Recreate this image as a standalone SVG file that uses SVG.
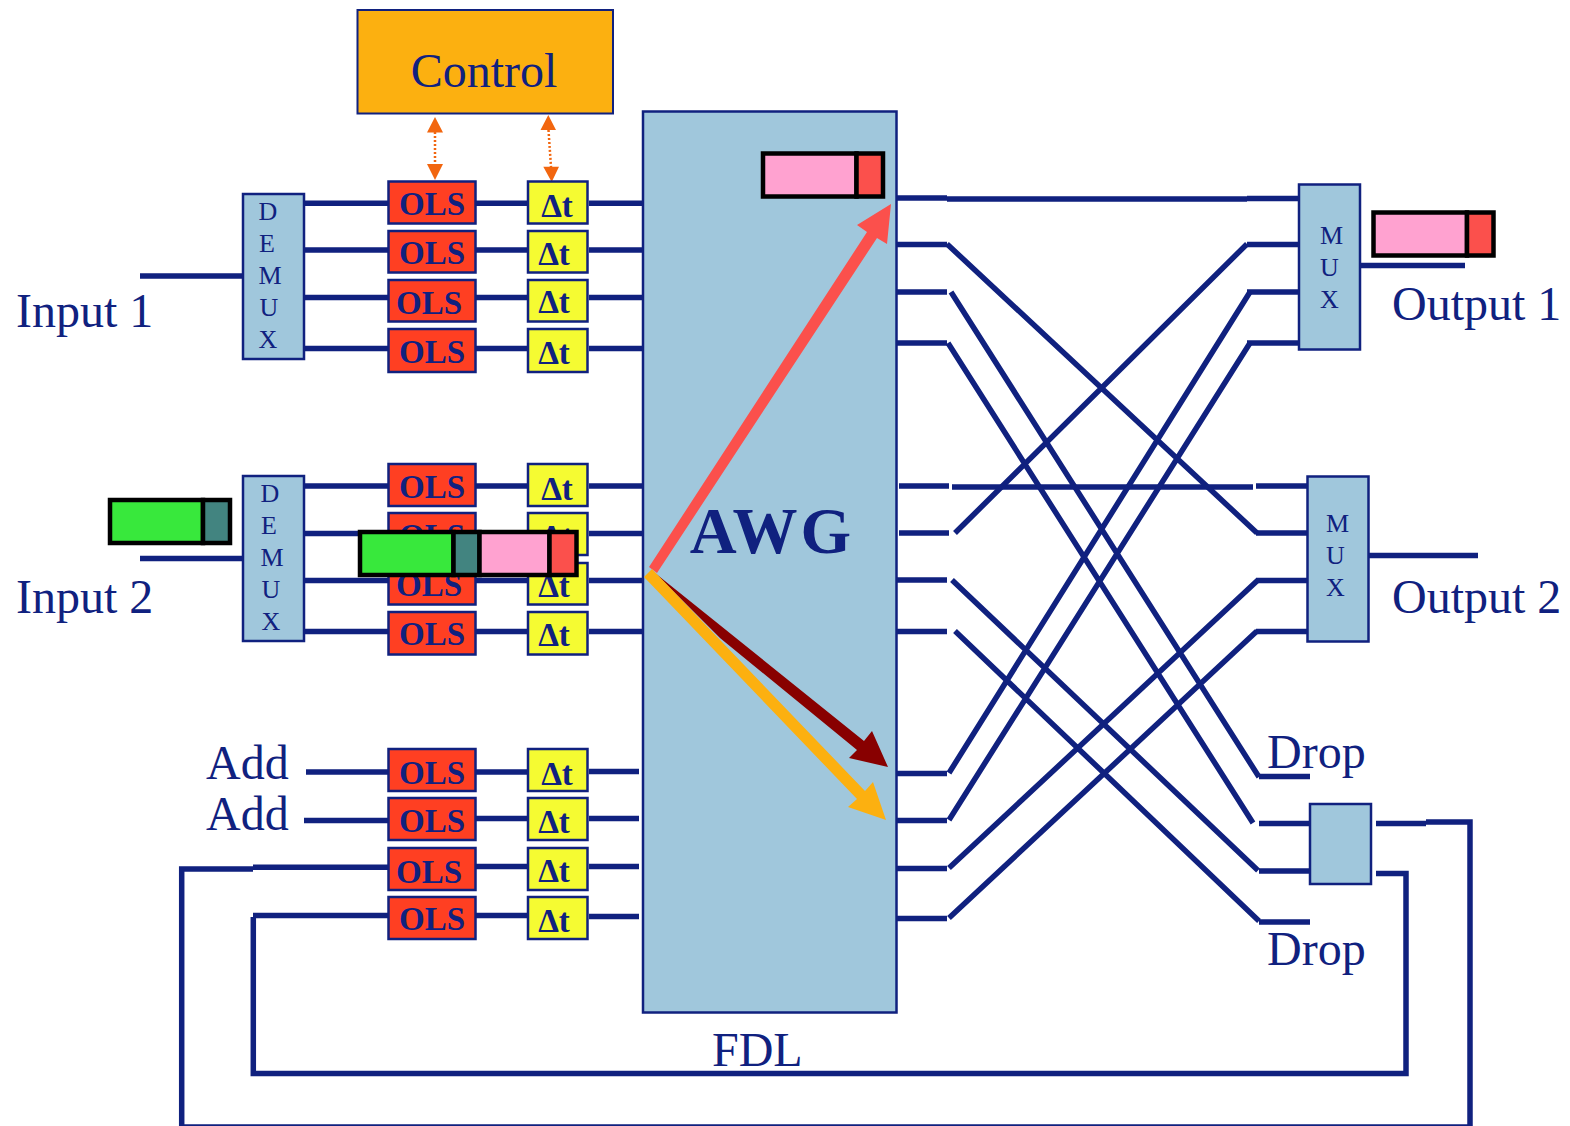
<svg xmlns="http://www.w3.org/2000/svg" width="1570" height="1126" viewBox="0 0 1570 1126">
<style>
text{font-family:"Liberation Serif","Times New Roman",serif;fill:#10217f}
.l{font-size:48px}
.ls{font-size:26px}
.ols rect{fill:#ff3f22;stroke:#10217f;stroke-width:2.5}
.ols text{font-size:33px;font-weight:bold;text-anchor:middle}
.dt rect{fill:#f5fb32;stroke:#10217f;stroke-width:2.5}
.dt text{font-size:33px;font-weight:bold;text-anchor:middle}
.blue{fill:#a0c7dc;stroke:#10217f;stroke-width:2.5}
.c path{stroke:#10217f;stroke-width:5.500;fill:none}
.p rect{stroke:#000;stroke-width:4.500}
</style>
<g id="awg"><rect class="blue" x="643" y="111.500" width="253.500" height="901"/><text x="772" y="553" text-anchor="middle" font-size="65" font-weight="bold" letter-spacing="3">AWG</text></g>
<g class="c" id="connectors">
<path d="M140 276H243M140 558.500H243"/>
<path d="M304 203.300H388M476 203.300H528M589 203.300H642M304 250H388M476 250H528M589 250H642M304 297.500H388M476 297.500H528M589 297.500H642M304 348.500H388M476 348.500H528M589 348.500H642"/>
<path d="M304 486H388M476 486H528M589 486H642M304 533.500H388M476 533.500H528M589 533.500H642M304 580.500H388M476 580.500H528M589 580.500H642M304 631.500H388M476 631.500H528M589 631.500H642"/>
<path d="M306 772H388M476 772H528M589 771.500H639M304 820.500H388M476 818.500H528M589 818.500H639M476 866.500H528M589 866.500H639M476 915.500H528M589 916.500H639"/>
<path d="M896 198H947M896 244.500H947M896 292H947M896 343H947M899 486H949M899 533H949M896 580H947M896 631.500H947M896 773.500H947M896 820.500H947M896 868.500H947M896 918.500H947"/>
<path d="M947 199H1247M952 487H1253M1247 198.500H1298M1247 244.500H1298M1247 292H1298M1247 343H1298M1256 486H1307M1256 533H1307M1256 580.500H1307M1256 631.500H1307"/>
<path d="M1259 776.500H1310M1259 823.500H1310M1259 871H1310M1259 922H1310"/>
<path d="M947 244L1257 533M951 292L1259 777M948 343L1253 823M955 533L1247 244M952 580L1258 870.500M955 631L1259 921M949 773L1250 292M949 820L1250 343M949 868L1258 580M949 918L1257 631"/>
<path d="M1360 265.500H1465M1369 555.500H1478"/>
<path d="M1376 823.500H1426M1426 822H1470V1127H181.700V869H253M253 867.300H388"/>
<path d="M1376 873.500H1406V1073.500H253.300V917M253 915.500H388"/>
</g>
<g id="arrow-control-ols"><path d="M435 132V165" stroke="#f2660f" stroke-width="2.500" stroke-dasharray="2 2" fill="none"/><path d="M435 117L443 132.500H427ZM435 180L427 164H443Z" fill="#f2660f"/></g>
<g id="arrow-control-dt"><path d="M548.500 130L551 167" stroke="#f2660f" stroke-width="2.500" stroke-dasharray="2 2" fill="none"/><path d="M548.300 115L556 130H540.500ZM551.700 182L543.300 166.700H559Z" fill="#f2660f"/></g>
<g id="control"><rect x="357.500" y="10" width="255.500" height="103.500" fill="#fcb010" stroke="#10217f" stroke-width="2"/><text x="484" y="87" text-anchor="middle" font-size="48">Control</text></g>
<g id="demux1"><rect class="blue" x="243" y="194" width="61" height="165"/><g class="ls" text-anchor="middle"><text x="268" y="220">D</text><text x="267" y="252">E</text><text x="270" y="284">M</text><text x="269" y="316">U</text><text x="268" y="348">X</text></g></g>
<g id="demux2"><rect class="blue" x="243" y="476" width="61" height="165"/><g class="ls" text-anchor="middle"><text x="270" y="502">D</text><text x="269" y="534">E</text><text x="272" y="566">M</text><text x="271" y="598">U</text><text x="271" y="630">X</text></g></g>
<g id="mux1"><rect class="blue" x="1299" y="184.500" width="61" height="165"/><g class="ls" text-anchor="middle"><text x="1331.500" y="244">M</text><text x="1329.500" y="276">U</text><text x="1329.500" y="308">X</text></g></g>
<g id="mux2"><rect class="blue" x="1307.500" y="476.500" width="61" height="165"/><g class="ls" text-anchor="middle"><text x="1337.500" y="532">M</text><text x="1335.500" y="564">U</text><text x="1335.500" y="596">X</text></g></g>
<g id="coupler"><rect class="blue" x="1310" y="804" width="61" height="80"/></g>
<g id="ols-rows">
<g class="ols"><rect x="388.500" y="181.500" width="87" height="42"/><text x="432" y="215">OLS</text></g>
<g class="ols"><rect x="388.500" y="231" width="87" height="41.500"/><text x="432" y="263.500">OLS</text></g>
<g class="ols"><rect x="388.500" y="280" width="87" height="41.500"/><text x="429" y="314">OLS</text></g>
<g class="ols"><rect x="388.500" y="329" width="87" height="43"/><text x="432" y="362.500">OLS</text></g>
<g class="ols"><rect x="388.500" y="464" width="87" height="42"/><text x="432" y="498">OLS</text></g>
<g class="ols"><rect x="388.500" y="513" width="87" height="42"/><text x="432" y="547">OLS</text></g>
<g class="ols"><rect x="388.500" y="563" width="87" height="41.500"/><text x="429" y="596">OLS</text></g>
<g class="ols"><rect x="388.500" y="612" width="87" height="42.500"/><text x="432" y="644.500">OLS</text></g>
<g class="ols"><rect x="388.500" y="749" width="87" height="42"/><text x="432" y="784">OLS</text></g>
<g class="ols"><rect x="388.500" y="798" width="87" height="42"/><text x="432" y="831.500">OLS</text></g>
<g class="ols"><rect x="388.500" y="848" width="87" height="42"/><text x="429" y="882.500">OLS</text></g>
<g class="ols"><rect x="388.500" y="897" width="87" height="42"/><text x="432" y="930">OLS</text></g>
</g>
<g id="dt-rows">
<g class="dt"><rect x="528" y="181.500" width="59.500" height="42"/><text x="557" y="217">Δt</text></g>
<g class="dt"><rect x="528" y="231" width="59.500" height="41.500"/><text x="554" y="264.500">Δt</text></g>
<g class="dt"><rect x="528" y="280" width="59.500" height="41.500"/><text x="554" y="313">Δt</text></g>
<g class="dt"><rect x="528" y="329" width="59.500" height="43"/><text x="554" y="363.500">Δt</text></g>
<g class="dt"><rect x="528" y="464" width="59.500" height="42"/><text x="557" y="499.500">Δt</text></g>
<g class="dt"><rect x="528" y="513" width="59.500" height="42"/><text x="557" y="548">Δt</text></g>
<g class="dt"><rect x="528" y="563" width="59.500" height="41.500"/><text x="554" y="597">Δt</text></g>
<g class="dt"><rect x="528" y="612" width="59.500" height="42.500"/><text x="554" y="646">Δt</text></g>
<g class="dt"><rect x="528" y="749" width="59.500" height="42"/><text x="557" y="784.500">Δt</text></g>
<g class="dt"><rect x="528" y="798" width="59.500" height="42"/><text x="554" y="832.500">Δt</text></g>
<g class="dt"><rect x="528" y="848" width="59.500" height="42"/><text x="554" y="881.500">Δt</text></g>
<g class="dt"><rect x="528" y="897" width="59.500" height="42"/><text x="554" y="931.500">Δt</text></g>
</g>
<g id="arrows">
<path d="M657 573L877 238L887 244L891 204L857 225L867 232L649 567Z" fill="#fb504c"/>
<path d="M655 573L864 741L872 731L888 767L849 758L857 750L720 638Z" fill="#880000"/>
<path d="M652 569L865 791L873 782L886 820L848 807L857 799L644 577Z" fill="#fcb010"/>
</g>
<g id="packet-in" class="p"><rect x="110" y="500" width="93" height="43" fill="#38e83c"/><rect x="203" y="500" width="27" height="43" fill="#428480"/></g>
<g id="packet-mid" class="p"><rect x="360" y="532" width="93.500" height="43" fill="#38e83c"/><rect x="453.500" y="532" width="26" height="43" fill="#428480"/><rect x="479.500" y="532" width="70" height="43" fill="#ffa2d0"/><rect x="549.500" y="532" width="27" height="43" fill="#fb504c"/></g>
<g id="packet-awg" class="p"><rect x="763" y="153.500" width="93.500" height="43" fill="#ffa2d0"/><rect x="856.500" y="153.500" width="26.500" height="43" fill="#fb504c"/></g>
<g id="packet-out" class="p"><rect x="1373.500" y="212.500" width="93.500" height="43" fill="#ffa2d0"/><rect x="1467" y="212.500" width="26.500" height="43" fill="#fb504c"/></g>
<g id="labels">
<text class="l" x="16" y="327">Input 1</text>
<text class="l" x="16" y="612.500">Input 2</text>
<text class="l" x="206" y="778.500">Add</text>
<text class="l" x="206" y="829.500">Add</text>
<text class="l" x="1392" y="319.500">Output 1</text>
<text class="l" x="1392" y="612.500">Output 2</text>
<text class="l" x="1267" y="767.500">Drop</text>
<text class="l" x="1267" y="964.500">Drop</text>
<text class="l" x="712" y="1065.500">FDL</text>
</g>
</svg>
